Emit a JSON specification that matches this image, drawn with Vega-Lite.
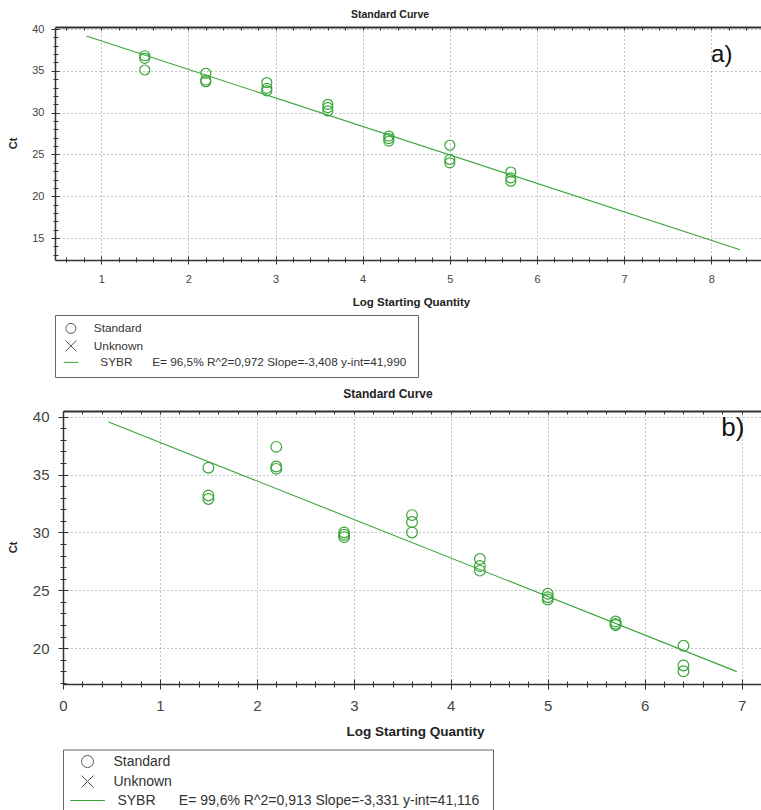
{
  "$schema": "https://vega.github.io/schema/vega-lite/v6.json",
  "background": "white",
  "padding": {"top": 9, "left": 7, "right": 0, "bottom": 0},
  "spacing": 9,
  "resolve": {"scale": {"shape": "independent", "color": "independent"}, "legend": {"shape": "independent", "color": "independent"}},
  "datasets": {
    "pts_a": [
      {"x": 1.5, "y": 36.8, "series": "Standard"}, {"x": 1.5, "y": 36.5, "series": "Standard"}, {"x": 1.5, "y": 35.1, "series": "Standard"},
      {"x": 2.2, "y": 34.7, "series": "Standard"}, {"x": 2.2, "y": 33.9, "series": "Standard"}, {"x": 2.2, "y": 33.7, "series": "Standard"},
      {"x": 2.9, "y": 33.6, "series": "Standard"}, {"x": 2.9, "y": 32.9, "series": "Standard"}, {"x": 2.9, "y": 32.6, "series": "Standard"},
      {"x": 3.6, "y": 31.0, "series": "Standard"}, {"x": 3.6, "y": 30.6, "series": "Standard"}, {"x": 3.6, "y": 30.2, "series": "Standard"},
      {"x": 4.3, "y": 27.2, "series": "Standard"}, {"x": 4.3, "y": 26.9, "series": "Standard"}, {"x": 4.3, "y": 26.6, "series": "Standard"},
      {"x": 5.0, "y": 26.1, "series": "Standard"}, {"x": 5.0, "y": 24.4, "series": "Standard"}, {"x": 5.0, "y": 24.0, "series": "Standard"},
      {"x": 5.7, "y": 22.9, "series": "Standard"}, {"x": 5.7, "y": 22.2, "series": "Standard"}, {"x": 5.7, "y": 21.8, "series": "Standard"}
    ],
    "line_a": [{"x": 0.83, "y": 39.16}, {"x": 8.33, "y": 13.6}],
    "lab_a": [{"x": 8.12, "y": 36.9, "label": "a)"}],
    "pts_b": [
      {"x": 1.5, "y": 35.6, "series": "Standard"}, {"x": 1.5, "y": 33.2, "series": "Standard"}, {"x": 1.5, "y": 32.9, "series": "Standard"},
      {"x": 2.2, "y": 37.4, "series": "Standard"}, {"x": 2.2, "y": 35.7, "series": "Standard"}, {"x": 2.2, "y": 35.5, "series": "Standard"},
      {"x": 2.9, "y": 30.0, "series": "Standard"}, {"x": 2.9, "y": 29.8, "series": "Standard"}, {"x": 2.9, "y": 29.6, "series": "Standard"},
      {"x": 3.6, "y": 31.5, "series": "Standard"}, {"x": 3.6, "y": 30.9, "series": "Standard"}, {"x": 3.6, "y": 30.0, "series": "Standard"},
      {"x": 4.3, "y": 27.7, "series": "Standard"}, {"x": 4.3, "y": 27.1, "series": "Standard"}, {"x": 4.3, "y": 26.7, "series": "Standard"},
      {"x": 5.0, "y": 24.7, "series": "Standard"}, {"x": 5.0, "y": 24.4, "series": "Standard"}, {"x": 5.0, "y": 24.2, "series": "Standard"},
      {"x": 5.7, "y": 22.3, "series": "Standard"}, {"x": 5.7, "y": 22.1, "series": "Standard"}, {"x": 5.7, "y": 22.0, "series": "Standard"},
      {"x": 6.4, "y": 20.2, "series": "Standard"}, {"x": 6.4, "y": 18.5, "series": "Standard"}, {"x": 6.4, "y": 18.0, "series": "Standard"}
    ],
    "line_b": [{"x": 0.47, "y": 39.55}, {"x": 6.95, "y": 17.97}],
    "lab_b": [{"x": 6.91, "y": 39.0, "label": "b)"}],
    "legend_rows": []
  },
  "vconcat": [
    {
      "width": 706,
      "height": 233,
      "title": {"text": "Standard Curve", "fontSize": 10.5, "fontWeight": "bold", "font": "Liberation Sans", "color": "#222", "anchor": "middle", "dx": -18, "offset": 3},
      "layer": [
        {
          "data": {"name": "line_a"},
          "mark": {"type": "line", "color": "#3aa53a", "strokeWidth": 1.1},
          "encoding": {
            "x": {"field": "x", "type": "quantitative", "scale": {"domain": [0.47, 8.57], "nice": false, "zero": false},
              "axis": {"orient": "bottom", "values": [0.6,0.8,1,1.2,1.4,1.6,1.8,2,2.2,2.4,2.6,2.8,3,3.2,3.4,3.6,3.8,4,4.2,4.4,4.6,4.8,5,5.2,5.4,5.6,5.8,6,6.2,6.4,6.6,6.8,7,7.2,7.4,7.6,7.8,8,8.2,8.4],
                "labelExpr": "datum.value % 1 === 0 ? format(datum.value, 'd') : ''", "labelOverlap": false, "labelFlush": false,
                "labelFontSize": 11, "labelPadding": 9,
                "tickSize": {"condition": {"test": "datum.value % 1 === 0", "value": 4}, "value": 2},
                "domainWidth": 1.5, "grid": true,
                "gridOpacity": {"condition": {"test": "datum.value % 1 === 0", "value": 1}, "value": 0},
                "title": "Log Starting Quantity", "titleFontSize": 11.5, "titleFontWeight": "bold", "titleX": 356, "titleY": 45, "titleBaseline": "alphabetic"}},
            "y": {"field": "y", "type": "quantitative", "scale": {"domain": [12.38, 40.24], "nice": false, "zero": false},
              "axis": {"orient": "left", "values": [13,14,15,16,17,18,19,20,21,22,23,24,25,26,27,28,29,30,31,32,33,34,35,36,37,38,39,40],
                "labelExpr": "datum.value % 5 === 0 ? format(datum.value, 'd') : ''", "labelOverlap": false, "labelFlush": false,
                "labelFontSize": 11, "labelPadding": 7,
                "tickSize": {"condition": {"test": "datum.value % 5 === 0", "value": 4}, "value": 2},
                "domainWidth": 1.5, "grid": true,
                "gridOpacity": {"condition": {"test": "datum.value % 5 === 0", "value": 1}, "value": 0},
                "title": "Ct", "titleFontSize": 11, "titleFontWeight": "bold", "titleX": -42, "titleY": 116, "titleBaseline": "middle", "titleAngle": -90}}
          }
        },
        {
          "data": {"name": "pts_a"},
          "mark": {"type": "point", "shape": "circle", "filled": false, "stroke": "#3aa53a", "strokeWidth": 1.2, "size": 100, "opacity": 1},
          "encoding": {
            "x": {"field": "x", "type": "quantitative",
              "axis": {"orient": "top", "offset": -233, "values": [0.6,0.8,1,1.2,1.4,1.6,1.8,2,2.2,2.4,2.6,2.8,3,3.2,3.4,3.6,3.8,4,4.2,4.4,4.6,4.8,5,5.2,5.4,5.6,5.8,6,6.2,6.4,6.6,6.8,7,7.2,7.4,7.6,7.8,8,8.2,8.4],
                "labels": false, "domain": false, "grid": false, "title": null,
                "tickSize": {"condition": {"test": "datum.value % 1 === 0", "value": 4}, "value": 3}}},
            "y": {"field": "y", "type": "quantitative",
              "axis": {"orient": "right", "offset": -706, "values": [13,14,15,16,17,18,19,20,21,22,23,24,25,26,27,28,29,30,31,32,33,34,35,36,37,38,39,40],
                "labels": false, "domain": false, "grid": false, "title": null,
                "tickSize": {"condition": {"test": "datum.value % 5 === 0", "value": 4}, "value": 3}}}
          }
        },
        {
          "data": {"name": "legend_rows"},
          "mark": {"type": "point", "filled": false, "strokeWidth": 1, "size": 100, "opacity": 1},
          "encoding": {
            "shape": {"field": "series", "type": "nominal",
              "scale": {"domain": ["Standard", "Unknown", "SYBR"], "range": ["circle", "M-1.1,-1.1L1.1,1.1M-1.1,1.1L1.1,-1.1", "M-1.45,0L1.45,0"]},
              "legend": {"orient": "none", "legendX": 0, "legendY": 288, "title": null, "strokeColor": "#666", "fillColor": "white", "padding": 7.5,
                "symbolSize": 100, "symbolStrokeWidth": 1, "symbolOffset": 2.5, "labelOffset": 17, "rowPadding": 2.5,
                "labelFont": "Liberation Sans", "labelFontSize": 11.8, "labelColor": "#333", "labelLimit": 1000,
                "labelExpr": "datum.value === 'SYBR' ? '\u200b\u00a0\u00a0SYBR\u00a0\u00a0\u00a0\u00a0\u00a0\u00a0E= 96,5% R^2=0,972 Slope=-3,408 y-int=41,990\u00a0\u200b' : datum.label"}},
            "color": {"field": "series", "type": "nominal",
              "scale": {"domain": ["Standard", "Unknown", "SYBR"], "range": ["#555555", "#555555", "#3aa53a"]},
              "legend": {"orient": "none", "legendX": 0, "legendY": 288, "title": null, "strokeColor": "#666", "fillColor": "white", "padding": 7.5,
                "symbolSize": 100, "symbolStrokeWidth": 1, "symbolOffset": 2.5, "labelOffset": 17, "rowPadding": 2.5,
                "labelFont": "Liberation Sans", "labelFontSize": 11.8, "labelColor": "#333", "labelLimit": 1000,
                "labelExpr": "datum.value === 'SYBR' ? '\u200b\u00a0\u00a0SYBR\u00a0\u00a0\u00a0\u00a0\u00a0\u00a0E= 96,5% R^2=0,972 Slope=-3,408 y-int=41,990\u00a0\u200b' : datum.label"}}
          }
        },
        {
          "data": {"name": "lab_a"},
          "mark": {"type": "text", "fontSize": 24, "font": "Liberation Sans", "color": "#111", "align": "center", "baseline": "middle"},
          "encoding": {
            "x": {"field": "x", "type": "quantitative",
              "axis": {"orient": "top", "values": [0.6,0.8,1,1.2,1.4,1.6,1.8,2,2.2,2.4,2.6,2.8,3,3.2,3.4,3.6,3.8,4,4.2,4.4,4.6,4.8,5,5.2,5.4,5.6,5.8,6,6.2,6.4,6.6,6.8,7,7.2,7.4,7.6,7.8,8,8.2,8.4],
                "labels": false, "grid": false, "title": null, "domainWidth": 2, "tickSize": -3}},
            "y": {"field": "y", "type": "quantitative", "axis": null},
            "text": {"field": "label"}
          }
        }
      ],
      "resolve": {"axis": {"x": "independent", "y": "independent"}}
    },
    {
      "width": 706,
      "height": 273,
      "title": {"text": "Standard Curve", "fontSize": 12, "fontWeight": "bold", "font": "Liberation Sans", "color": "#222", "anchor": "middle", "dx": -20, "offset": 9},
      "layer": [
        {
          "data": {"name": "line_b"},
          "mark": {"type": "line", "color": "#3aa53a", "strokeWidth": 1.1},
          "encoding": {
            "x": {"field": "x", "type": "quantitative", "scale": {"domain": [0, 7.2], "range": [8, 706], "nice": false, "zero": false},
              "axis": {"orient": "bottom", "values": [0,0.2,0.4,0.6,0.8,1,1.2,1.4,1.6,1.8,2,2.2,2.4,2.6,2.8,3,3.2,3.4,3.6,3.8,4,4.2,4.4,4.6,4.8,5,5.2,5.4,5.6,5.8,6,6.2,6.4,6.6,6.8,7,7.2],
                "labelExpr": "datum.value % 1 === 0 ? format(datum.value, 'd') : ''", "labelOverlap": false, "labelFlush": false,
                "labelFontSize": 15, "labelPadding": 9,
                "tickSize": {"condition": {"test": "datum.value % 1 === 0", "value": 5}, "value": 3},
                "domainWidth": 1.5, "grid": true,
                "gridOpacity": {"condition": {"test": "datum.value % 1 === 0", "value": 1}, "value": 0},
                "title": "Log Starting Quantity", "titleFontSize": 13.5, "titleFontWeight": "bold", "titleX": 360, "titleY": 51, "titleBaseline": "alphabetic"}},
            "y": {"field": "y", "type": "quantitative", "scale": {"domain": [16.9, 40.5], "nice": false, "zero": false},
              "axis": {"orient": "left", "offset": -8, "values": [17,18,19,20,21,22,23,24,25,26,27,28,29,30,31,32,33,34,35,36,37,38,39,40],
                "labelExpr": "datum.value % 5 === 0 ? format(datum.value, 'd') : ''", "labelOverlap": false, "labelFlush": false,
                "labelFontSize": 15, "labelPadding": 9,
                "tickSize": {"condition": {"test": "datum.value % 5 === 0", "value": 5}, "value": 3},
                "domainWidth": 1.5, "grid": true,
                "gridOpacity": {"condition": {"test": "datum.value % 5 === 0", "value": 1}, "value": 0},
                "title": "Ct", "titleFontSize": 11, "titleFontWeight": "bold", "titleX": -50, "titleY": 136, "titleBaseline": "middle", "titleAngle": -90}}
          }
        },
        {
          "data": {"name": "pts_b"},
          "mark": {"type": "point", "shape": "circle", "filled": false, "stroke": "#3aa53a", "strokeWidth": 1.2, "size": 115, "opacity": 1},
          "encoding": {
            "x": {"field": "x", "type": "quantitative",
              "axis": {"orient": "top", "offset": -273, "values": [0,0.2,0.4,0.6,0.8,1,1.2,1.4,1.6,1.8,2,2.2,2.4,2.6,2.8,3,3.2,3.4,3.6,3.8,4,4.2,4.4,4.6,4.8,5,5.2,5.4,5.6,5.8,6,6.2,6.4,6.6,6.8,7,7.2],
                "labels": false, "domain": false, "grid": false, "title": null,
                "tickSize": {"condition": {"test": "datum.value % 1 === 0", "value": 5}, "value": 3}}},
            "y": {"field": "y", "type": "quantitative",
              "axis": {"orient": "right", "offset": -698, "values": [17,18,19,20,21,22,23,24,25,26,27,28,29,30,31,32,33,34,35,36,37,38,39,40],
                "labels": false, "domain": false, "grid": false, "title": null,
                "tickSize": {"condition": {"test": "datum.value % 5 === 0", "value": 5}, "value": 3}}}
          }
        },
        {
          "data": {"name": "legend_rows"},
          "mark": {"type": "point", "filled": false, "strokeWidth": 1, "size": 144, "opacity": 1},
          "encoding": {
            "shape": {"field": "series", "type": "nominal",
              "scale": {"domain": ["Standard", "Unknown", "SYBR"], "range": ["circle", "M-1,-1L1,1M-1,1L1,-1", "M-2.9,0L2.9,0"]},
              "legend": {"orient": "none", "legendX": 8, "legendY": 338.5, "title": null, "strokeColor": "#666", "fillColor": "white", "padding": 5,
                "symbolSize": 144, "symbolStrokeWidth": 1, "symbolOffset": 12.5, "labelOffset": 19, "rowPadding": 4,
                "labelFont": "Liberation Sans", "labelFontSize": 14, "labelColor": "#333", "labelLimit": 1000,
                "labelExpr": "datum.value === 'SYBR' ? '\u200b\u00a0SYBR\u00a0\u00a0\u00a0\u00a0\u00a0\u00a0E= 99,6% R^2=0,913 Slope=-3,331 y-int=41,116\u00a0\u00a0\u200b' : datum.label"}},
            "color": {"field": "series", "type": "nominal",
              "scale": {"domain": ["Standard", "Unknown", "SYBR"], "range": ["#555555", "#555555", "#3aa53a"]},
              "legend": {"orient": "none", "legendX": 8, "legendY": 338.5, "title": null, "strokeColor": "#666", "fillColor": "white", "padding": 5,
                "symbolSize": 144, "symbolStrokeWidth": 1, "symbolOffset": 12.5, "labelOffset": 19, "rowPadding": 4,
                "labelFont": "Liberation Sans", "labelFontSize": 14, "labelColor": "#333", "labelLimit": 1000,
                "labelExpr": "datum.value === 'SYBR' ? '\u200b\u00a0SYBR\u00a0\u00a0\u00a0\u00a0\u00a0\u00a0E= 99,6% R^2=0,913 Slope=-3,331 y-int=41,116\u00a0\u00a0\u200b' : datum.label"}}
          }
        },
        {
          "data": {"name": "lab_b"},
          "mark": {"type": "text", "fontSize": 26, "font": "Liberation Sans", "color": "#111", "align": "center", "baseline": "middle"},
          "encoding": {
            "x": {"field": "x", "type": "quantitative",
              "axis": {"orient": "top", "values": [0,0.2,0.4,0.6,0.8,1,1.2,1.4,1.6,1.8,2,2.2,2.4,2.6,2.8,3,3.2,3.4,3.6,3.8,4,4.2,4.4,4.6,4.8,5,5.2,5.4,5.6,5.8,6,6.2,6.4,6.6,6.8,7,7.2],
                "labels": false, "grid": false, "title": null, "domainWidth": 2, "tickSize": -3}},
            "y": {"field": "y", "type": "quantitative", "axis": null},
            "text": {"field": "label"}
          }
        }
      ],
      "resolve": {"axis": {"x": "independent", "y": "independent"}}
    }
  ],
  "config": {
    "view": {"stroke": null},
    "font": "Liberation Sans",
    "axis": {"labelFont": "Liberation Sans", "titleFont": "Liberation Sans", "domainColor": "#333", "tickColor": "#333", "tickWidth": 1, "gridColor": "#888", "gridDash": [1, 3], "gridWidth": 1, "labelColor": "#444", "titleColor": "#222"}
  }
}
